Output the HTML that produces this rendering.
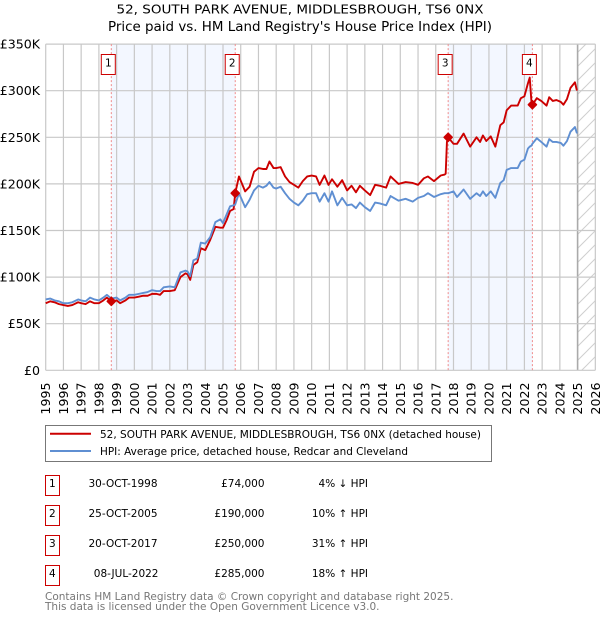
<!DOCTYPE html>
<html lang="en">
<head>
<meta charset="utf-8">
<title>52, South Park Avenue house price chart</title>
<style>
html,body{margin:0;padding:0;background:#fff;width:600px;height:620px;overflow:hidden}
svg{display:block}
text{font-family:"DejaVu Sans","Liberation Sans",sans-serif;fill:#000}
</style>
</head>
<body>
<svg id="chart" xmlns="http://www.w3.org/2000/svg" width="600" height="620" viewBox="0 0 600 620">
  <defs>
    <pattern id="hatch" patternUnits="userSpaceOnUse" width="14" height="14">
      <path d="M-2 16 L16 -2 M-2 2 L2 -2 M12 16 L16 12" stroke="#cfcfcf" stroke-width="1" fill="none"/>
    </pattern>
  </defs>
  <text x="300" y="13.5" text-anchor="middle" font-size="12.6" textLength="367" lengthAdjust="spacingAndGlyphs">52, SOUTH PARK AVENUE, MIDDLESBROUGH, TS6 0NX</text>
  <text x="300" y="31" text-anchor="middle" font-size="13" textLength="384" lengthAdjust="spacingAndGlyphs">Price paid vs. HM Land Registry's House Price Index (HPI)</text>
  <g id="shading"></g>
  <rect x="578" y="44.3" width="17" height="326" fill="url(#hatch)"/>
  <g id="grid"></g>
  <g id="ticks"></g>
  <g id="sale-lines"></g>
  <path id="price-line" fill="none" stroke="#cc0000" stroke-width="1.9" stroke-linejoin="round"/>
  <path id="hpi-line" fill="none" stroke="#5f8fd2" stroke-width="1.9" stroke-linejoin="round"/>
  <g id="sale-markers"></g>

  <g>
    <rect x="45.5" y="425.5" width="446" height="36" fill="#fff" stroke="#777" stroke-width="1"/>
    <line x1="50" x2="91" y1="433.8" y2="433.8" stroke="#cc0000" stroke-width="2"/>
    <text x="100" y="438" font-size="10.8" textLength="381" lengthAdjust="spacingAndGlyphs">52, SOUTH PARK AVENUE, MIDDLESBROUGH, TS6 0NX (detached house)</text>
    <line x1="50" x2="91" y1="451" y2="451" stroke="#5f8fd2" stroke-width="2"/>
    <text x="100" y="455" font-size="10.8" textLength="308" lengthAdjust="spacingAndGlyphs">HPI: Average price, detached house, Redcar and Cleveland</text>
  </g>

  <g>
    <g>
      <rect x="45.5" y="475.5" width="14" height="20" fill="#fff" stroke="#cc0000" stroke-width="1"/>
      <text x="52.3" y="487" text-anchor="middle" font-size="10.5">1</text>
      <text x="157.5" y="487" text-anchor="end" font-size="10.5">30-OCT-1998</text>
      <text x="264.5" y="487" text-anchor="end" font-size="10.5">£74,000</text>
      <text x="368" y="487" text-anchor="end" font-size="10.5">4% ↓ HPI</text>
    </g>
    <g>
      <rect x="45.5" y="505.5" width="14" height="20" fill="#fff" stroke="#cc0000" stroke-width="1"/>
      <text x="52.3" y="517" text-anchor="middle" font-size="10.5">2</text>
      <text x="157.5" y="517" text-anchor="end" font-size="10.5">25-OCT-2005</text>
      <text x="264.5" y="517" text-anchor="end" font-size="10.5">£190,000</text>
      <text x="368" y="517" text-anchor="end" font-size="10.5">10% ↑ HPI</text>
    </g>
    <g>
      <rect x="45.5" y="535.5" width="14" height="20" fill="#fff" stroke="#cc0000" stroke-width="1"/>
      <text x="52.3" y="547" text-anchor="middle" font-size="10.5">3</text>
      <text x="157.5" y="547" text-anchor="end" font-size="10.5">20-OCT-2017</text>
      <text x="264.5" y="547" text-anchor="end" font-size="10.5">£250,000</text>
      <text x="368" y="547" text-anchor="end" font-size="10.5">31% ↑ HPI</text>
    </g>
    <g>
      <rect x="45.5" y="565.5" width="14" height="20" fill="#fff" stroke="#cc0000" stroke-width="1"/>
      <text x="52.3" y="577" text-anchor="middle" font-size="10.5">4</text>
      <text x="158.5" y="577" text-anchor="end" font-size="10.5">08-JUL-2022</text>
      <text x="264.5" y="577" text-anchor="end" font-size="10.5">£285,000</text>
      <text x="368" y="577" text-anchor="end" font-size="10.5">18% ↑ HPI</text>
    </g>
  </g>

  <text x="45" y="600" font-size="10.5" style="fill:#777">Contains HM Land Registry data © Crown copyright and database right 2025.</text>
  <text x="45" y="610" font-size="10.5" style="fill:#777">This data is licensed under the Open Government Licence v3.0.</text>
</svg>
<script>
var dates = [1995,1995.25,1995.5,1995.75,1996,1996.25,1996.5,1996.83,1997,1997.25,1997.5,1997.75,1998,1998.25,1998.45,1998.7,1999,1999.2,1999.5,1999.7,2000,2000.25,2000.5,2000.75,2001,2001.25,2001.45,2001.65,2002,2002.28,2002.6,2002.88,2003,2003.15,2003.33,2003.55,2003.75,2004,2004.28,2004.57,2004.85,2005,2005.2,2005.4,2005.6,2005.69,2005.9,2006.25,2006.5,2006.75,2007,2007.25,2007.45,2007.62,2007.85,2008,2008.25,2008.5,2008.75,2009,2009.25,2009.5,2009.75,2010,2010.25,2010.45,2010.72,2010.95,2011.15,2011.45,2011.72,2012,2012.25,2012.5,2012.72,2013,2013.3,2013.58,2013.85,2014.2,2014.45,2014.9,2015.3,2015.7,2016,2016.33,2016.56,2016.9,2017.28,2017.5,2017.56,2017.63,2017.7,2018,2018.2,2018.57,2018.94,2019.3,2019.5,2019.66,2019.85,2020.1,2020.36,2020.64,2020.83,2021,2021.25,2021.62,2021.8,2022,2022.2,2022.3,2022.39,2022.45,2022.7,2022.95,2023.25,2023.4,2023.6,2023.8,2024.05,2024.2,2024.4,2024.6,2024.85,2024.95,2025];
var priceValues = [72,74,73,71,70,69,70,73,72,71,74,72,72,75,78,74,75,72,75,78,78,79,80,80,82,82,81,85,85,86,100,104,103,97,113,116,131,129,140,154,153,153,161,171,173,190,208,192,197,213,217,216,216,224,217,217,218,208,202,199,196,203,208,209,208,199,209,199,205,197,204,193,198,191,198,193,188,199,198,196,208,200,202,201,199,206,208,203,209,210,211,245,250,243,243,254,240,250,245,252,246,251,240,263,266,279,284,284,292,294,308,314,290,285,292,289,284,293,289,290,288,285,291,303,309,301,301];
var hpiValues = [76,77,75,74,72,72,73,76,75,74,78,76,75,78,81,77,78,75,78,81,81,82,83,84,86,85,85,89,90,89,105,107,106,101,118,120,137,136,143,159,162,158,167,176,177,178,190,175,183,193,198,196,198,202,196,195,197,190,184,180,177,182,189,190,190,181,190,181,192,177,185,177,178,174,180,175,171,180,179,177,187,182,184,181,185,187,190,186,189,190,190,190,190,192,186,194,184,190,187,192,187,192,185,201,204,215,217,217,224,226,238,240,241,243,249,245,240,248,245,245,244,241,246,256,261,255,255];
var saleDates = [1998.7,2005.69,2017.7,2022.45];
var salePrices = [74,190,250,285];
var saleLabels = ['1','2','3','4'];
var yTicks = [0,50,100,150,200,250,300,350];
var yTickLabels = ['£0','£50K','£100K','£150K','£200K','£250K','£300K','£350K'];
var xTicks = [1995,1996,1997,1998,1999,2000,2001,2002,2003,2004,2005,2006,2007,2008,2009,2010,2011,2012,2013,2014,2015,2016,2017,2018,2019,2020,2021,2022,2023,2024,2025,2026];

var NS = 'http://www.w3.org/2000/svg';
function xScale(d) { return 45.7 + (d - 1995) * 17.73; }
function yScale(v) { return 370.3 - v * 0.932; }
function make(tag, parentId) {
  var el = document.createElementNS(NS, tag);
  document.getElementById(parentId).appendChild(el);
  return el;
}
function setAttrs(el, attrs) {
  for (var k in attrs) { el.setAttribute(k, attrs[k]); }
}
function linePath(xs, ys) {
  var d = '';
  for (var i = 0; i < xs.length; i++) {
    d += (i ? 'L' : 'M') + xScale(xs[i]).toFixed(2) + ' ' + yScale(ys[i]).toFixed(2);
  }
  return d;
}

var yTop = yScale(350), yBottom = yScale(0);

for (var s = 0; s + 1 < saleDates.length; s += 2) {
  var band = make('rect', 'shading');
  
  
  setAttrs(band, {x: xScale(saleDates[s]), y: yTop, width: xScale(saleDates[s + 1]) - xScale(saleDates[s]), height: yBottom - yTop, fill: '#f3f7ff'});
}

xTicks.forEach(function (t) {
  var g = make('line', 'grid');
  
  
  setAttrs(g, {x1: xScale(t), x2: xScale(t), y1: yTop, y2: yBottom, stroke: t === 2025 ? '#aaa' : '#c8c8c8', 'stroke-width': t === 2025 ? 1.6 : 1.2});
  var lb = make('text', 'ticks');
  
  
  var px = xScale(t) + 4.5;
  setAttrs(lb, {x: px, y: 382.5, 'text-anchor': 'end', 'font-size': 12.6, transform: 'rotate(-90 ' + px + ' 382.5)'});
  lb.textContent = String(t);
});

yTicks.forEach(function (t, i) {
  var g = make('line', 'grid');
  
  
  setAttrs(g, {x1: 45.7, x2: xScale(2026), y1: yScale(t), y2: yScale(t), stroke: '#c8c8c8', 'stroke-width': 1.2});
  var lb = make('text', 'ticks');
  
  
  setAttrs(lb, {x: 40, y: yScale(t) + 4.5, 'text-anchor': 'end', 'font-size': 12.6});
  lb.textContent = yTickLabels[i];
});

document.getElementById('price-line').setAttribute('d', linePath(dates, priceValues));
document.getElementById('hpi-line').setAttribute('d', linePath(dates, hpiValues));

saleDates.forEach(function (d, i) {
  var x = xScale(d);
  var vl = make('line', 'sale-lines');
  
  
  setAttrs(vl, {x1: x, x2: x, y1: yTop, y2: yBottom, stroke: '#f08a8a', 'stroke-width': 1, 'stroke-dasharray': '2 2'});
  var m = make('path', 'sale-markers');
  
  
  var y = yScale(salePrices[i]);
  setAttrs(m, {d: 'M' + (x - 4) + ' ' + y + 'L' + x + ' ' + (y - 4) + 'L' + (x + 4) + ' ' + y + 'L' + x + ' ' + (y + 4) + 'Z', fill: '#cc0000', stroke: '#cc0000', 'stroke-width': 1.6, 'stroke-linejoin': 'round'});
  var box = make('rect', 'sale-markers');
  
  
  setAttrs(box, {x: x - 10, y: 54.5, width: 14, height: 20, fill: '#fff', stroke: '#cc0000', 'stroke-width': 1});
  var lb = make('text', 'sale-markers');
  
  
  setAttrs(lb, {x: x - 3, y: 66.5, 'text-anchor': 'middle', 'font-size': 10.5});
  lb.textContent = saleLabels[i];
});
</script>
</body>
</html>
